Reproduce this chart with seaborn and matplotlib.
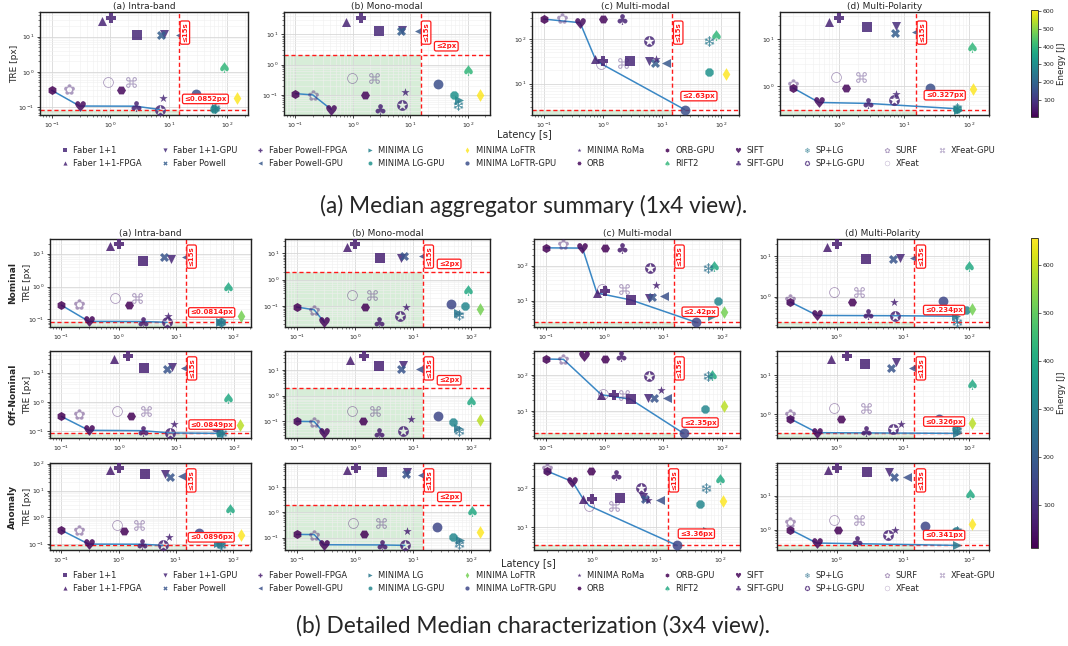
import matplotlib
matplotlib.use("Agg")
import matplotlib.pyplot as plt
import matplotlib.transforms as mtransforms
from matplotlib.colors import Normalize
from matplotlib.cm import ScalarMappable
from matplotlib.lines import Line2D
import numpy as np
import pandas as pd
import seaborn as sns

# ---------------------------------------------------------------- methods
methods = ["Faber 1+1", "Faber 1+1-FPGA", "Faber 1+1-GPU", "Faber Powell",
           "Faber Powell-FPGA", "Faber Powell-GPU", "MINIMA LG", "MINIMA LG-GPU",
           "MINIMA LoFTR", "MINIMA LoFTR-GPU", "MINIMA RoMa", "ORB", "ORB-GPU",
           "RIFT2", "SIFT", "SIFT-GPU", "SP+LG", "SP+LG-GPU", "SURF", "XFeat",
           "XFeat-GPU"]
markers = ["s", "^", "v", "X", "P", "<", ">", "8", "d", "o", "*", "H", "h",
           "$\u2660$", "$\u2665$", "$\u2663$", "$\u2744$", "$\u272A$",
           "$\u273F$", "$\u25CB$", "$\u2318$"]
pale_methods = ["SURF", "XFeat", "XFeat-GPU"]

# energy [J] per method: median summary, nominal, off-nominal, anomaly
energy_median = [70, 60, 80, 180, 60, 170, 270, 310, 606, 150, 70, 15, 3,
                 400, 20, 60, 250, 70, 60, 60, 70]
energy_nominal = [70, 60, 80, 180, 60, 170, 270, 310, 520, 150, 70, 15, 11,
                  400, 20, 60, 250, 70, 60, 60, 70]
energy_offnominal = [70, 60, 80, 180, 60, 170, 270, 310, 590, 150, 70, 15, 12,
                     400, 20, 60, 250, 70, 60, 60, 70]
energy_anomaly = [70, 60, 80, 180, 60, 170, 270, 310, 656, 150, 70, 15, 13,
                  400, 20, 60, 250, 70, 60, 60, 70]

panel_titles = ["(a) Intra-band", "(b) Mono-modal", "(c) Multi-modal",
                "(d) Multi-Polarity"]
row_names = ["Nominal", "Off-Nominal", "Anomaly"]
latency_limit = 15
mono_tre_limit = 2

# ---------------------------------------------------------------- median summary
median_intra_lat = [2.8, 0.71, 8.3, 7.3, 1.03, 15.5, 63, 60, 148, 28.7, 7.8, 1.51, 0.1,
                    88, 0.3, 2.7, 62, 7.0, 0.2, 0.91, 2.27]
median_intra_tre = [11.2, 27, 11.7, 11, 33, 11, 0.092, 0.09, 0.18, 0.24, 0.185, 0.31, 0.30,
                    1.39, 0.107, 0.106, 0.095, 0.0852, 0.32, 0.50, 0.52]
median_mono_lat = [2.89, 0.76, 7.2, 6.8, 1.37, 14, 70, 58, 160, 30, 8, 1.6, 0.1,
                   99, 0.42, 3.0, 68, 7.0, 0.2, 0.96, 2.3]
median_mono_tre = [12.8, 26, 13.5, 12.5, 33, 12.8, 0.066, 0.1, 0.1, 0.22, 0.126, 0.1, 0.11,
                   0.66, 0.033, 0.034, 0.048, 0.045, 0.1, 0.36, 0.36]
median_multi_lat = [2.9, 0.74, 5.9, 7.5, 1.0, 11.5, 65, 63, 120, 24, 7.9, 1.0, 0.1,
                    83, 0.41, 2.1, 63, 6.1, 0.2, 0.93, 2.2]
median_multi_tre = [32, 36, 33, 29, 33, 29, 5.2, 18.5, 16.5, 2.63, 36, 280, 280,
                    120, 232, 275, 88, 92, 290, 28, 28.5]
median_polar_lat = [2.7, 0.71, 7.6, 7.4, 1.0, 15, 66, 64, 115, 25, 7.6, 1.28, 0.2,
                    110, 0.5, 2.8, 65, 7.0, 0.2, 0.9, 2.2]
median_polar_tre = [18, 23, 19, 13, 27, 14, 0.327, 0.34, 0.89, 0.93, 0.7, 0.93, 0.93,
                    6.6, 0.46, 0.44, 0.36, 0.52, 1.15, 1.6, 1.6]

# ---------------------------------------------------------------- nominal
nominal_intra_lat = [2.7, 0.7, 8.3, 6.2, 1.0, 15, 59, 62, 135, 42, 7.2, 1.5, 0.1,
                     82, 0.3, 2.7, 60, 7.0, 0.2, 0.86, 2.1]
nominal_intra_tre = [5.9, 17, 6.7, 8, 19, 8.1, 0.083, 0.085, 0.13, 0.17, 0.13, 0.27, 0.27,
                     1.0, 0.087, 0.086, 0.084, 0.0814, 0.3, 0.44, 0.44]
nominal_mono_lat = [2.7, 0.73, 6.3, 7.0, 1.0, 15, 59, 78, 140, 45, 7.5, 1.5, 0.1,
                    90, 0.3, 2.6, 61, 5.9, 0.2, 0.9, 2.0]
nominal_mono_tre = [6.5, 18, 6.6, 8.3, 22, 8.3, 0.053, 0.1, 0.074, 0.12, 0.092, 0.092, 0.092,
                    0.4, 0.024, 0.0245, 0.044, 0.04, 0.072, 0.26, 0.26]
nominal_multi_lat = [2.8, 0.74, 5.6, 6.4, 1.0, 10.1, 68, 83, 105, 36, 7.6, 1.0, 0.1,
                     72, 0.42, 1.95, 58, 5.8, 0.2, 0.9, 2.1]
nominal_multi_tre = [10.5, 16.6, 11.8, 13, 19.5, 14, 3.7, 9.8, 4.9, 2.42, 28, 320, 320,
                     95, 315, 320, 85, 85, 400, 21, 21]
nominal_polar_lat = [2.8, 0.72, 9.2, 7.2, 1.0, 15, 64, 89, 112, 40, 7.4, 1.7, 0.2,
                     100, 0.51, 2.95, 66, 7.6, 0.2, 0.92, 2.2]
nominal_polar_tre = [8.2, 16.6, 9.0, 8.2, 19, 9, 0.33, 0.47, 0.5, 0.78, 0.74, 0.74, 0.74,
                     5.7, 0.345, 0.38, 0.234, 0.34, 0.87, 1.3, 1.3]

# ---------------------------------------------------------------- off-nominal
offnominal_intra_lat = [2.75, 0.83, 8.5, 6.8, 1.42, 14, 60, 58, 130, 50, 9, 1.6, 0.1,
                        79, 0.3, 2.6, 62, 7.7, 0.2, 0.91, 3.0]
offnominal_intra_tre = [15, 30, 16, 13.4, 36, 14, 0.0849, 0.09, 0.16, 0.14, 0.18, 0.32, 0.32,
                        1.4, 0.108, 0.105, 0.088, 0.088, 0.39, 0.49, 0.49]
offnominal_mono_lat = [2.6, 0.83, 6.8, 6.2, 1.45, 13, 60, 48, 140, 27, 9.2, 1.4, 0.1,
                       100, 0.3, 2.6, 61, 6.7, 0.2, 0.9, 2.2]
offnominal_mono_tre = [14, 25, 16, 11, 34, 11, 0.055, 0.092, 0.11, 0.16, 0.12, 0.1, 0.1,
                       0.64, 0.034, 0.035, 0.041, 0.043, 0.098, 0.25, 0.25]
offnominal_multi_lat = [2.76, 0.88, 5.4, 6.9, 1.45, 11.5, 67, 51, 105, 22, 9.1, 1.0, 0.1,
                        68, 0.45, 1.9, 58, 5.7, 0.2, 0.93, 2.1]
offnominal_multi_tre = [21, 28, 22, 22, 28, 22, 5.1, 11, 14, 2.35, 38, 275, 275,
                        102, 326, 326, 90, 90, 270, 28.5, 28]
offnominal_polar_lat = [2.7, 0.83, 7.8, 6.7, 1.45, 14.5, 66, 64, 112, 35, 9.5, 1.17, 0.2,
                        112, 0.51, 2.8, 65, 7.2, 0.2, 0.92, 2.8]
offnominal_polar_tre = [19, 26, 21, 15, 30, 15, 0.326, 0.43, 0.61, 0.77, 0.55, 0.77, 0.77,
                        6.1, 0.34, 0.38, 0.4, 0.43, 1.0, 1.44, 1.44]

# ---------------------------------------------------------------- anomaly
anomaly_intra_lat = [2.9, 0.71, 6.6, 8.1, 1.02, 13, 55, 60, 138, 26, 7.8, 1.25, 0.1,
                     89, 0.3, 2.6, 62, 6.0, 0.2, 0.93, 2.3]
anomaly_intra_tre = [42, 57, 43, 32, 67, 35, 0.11, 0.1, 0.21, 0.26, 0.19, 0.31, 0.33,
                     2.1, 0.1, 0.099, 0.095, 0.0896, 0.34, 0.52, 0.52]
anomaly_mono_lat = [2.9, 0.74, 7.8, 7.4, 1.05, 14, 63, 48, 138, 26, 7.8, 1.45, 0.1,
                    102, 0.29, 2.9, 62, 7.2, 0.2, 0.93, 2.8]
anomaly_mono_tre = [38, 45, 38, 31, 53, 29, 0.083, 0.11, 0.17, 0.26, 0.18, 0.135, 0.135,
                    1.15, 0.053, 0.052, 0.055, 0.05, 0.133, 0.37, 0.37]
anomaly_multi_lat = [2.7, 0.73, 6.2, 6.7, 1.0, 11.4, 62, 48, 107, 21, 7.5, 0.96, 0.2,
                     99, 0.5, 2.4, 60, 5.8, 0.2, 0.91, 2.2]
anomaly_multi_tre = [56, 53, 59, 53, 53, 50, 8.1, 40, 46, 3.36, 48, 274, 274,
                     170, 146, 220, 100, 100, 320, 35, 35]
anomaly_polar_lat = [2.85, 0.74, 6.2, 7.4, 1.0, 11.7, 66, 64, 112, 22, 7.6, 1.05, 0.2,
                     104, 0.5, 2.05, 66, 6.0, 0.2, 0.9, 2.2]
anomaly_polar_tre = [49, 55, 50, 35, 63, 35, 0.341, 0.9, 1.5, 1.27, 1.0, 1.0, 1.0,
                     11, 0.4, 0.45, 0.9, 0.68, 1.7, 1.9, 1.9]

median_panels = [(median_intra_lat, median_intra_tre), (median_mono_lat, median_mono_tre),
                 (median_multi_lat, median_multi_tre), (median_polar_lat, median_polar_tre)]
detail_panels = [
    [(nominal_intra_lat, nominal_intra_tre), (nominal_mono_lat, nominal_mono_tre),
     (nominal_multi_lat, nominal_multi_tre), (nominal_polar_lat, nominal_polar_tre)],
    [(offnominal_intra_lat, offnominal_intra_tre), (offnominal_mono_lat, offnominal_mono_tre),
     (offnominal_multi_lat, offnominal_multi_tre), (offnominal_polar_lat, offnominal_polar_tre)],
    [(anomaly_intra_lat, anomaly_intra_tre), (anomaly_mono_lat, anomaly_mono_tre),
     (anomaly_multi_lat, anomaly_multi_tre), (anomaly_polar_lat, anomaly_polar_tre)],
]
detail_energy = [energy_nominal, energy_offnominal, energy_anomaly]

# ---------------------------------------------------------------- style
sns.set_theme(style="whitegrid")
plt.rcParams["font.family"] = ["DejaVu Sans"]
plt.rcParams["axes.edgecolor"] = "#222222"
plt.rcParams["axes.linewidth"] = 1.0

W, H = 1068, 646
fig = plt.figure(figsize=(W / 100, H / 100), dpi=100)
fig.patch.set_facecolor("white")


def px_axes(x0, y0, x1, y1):
    return fig.add_axes([x0 / W, 1 - y1 / H, (x1 - x0) / W, (y1 - y0) / H])


RED = "#ff1a1a"
FRONT = "#3a87c4"
cmap = "viridis"


def pareto(df):
    d = df.sort_values(["lat", "tre"])
    best, keep = np.inf, []
    for idx, row in d.iterrows():
        if row["tre"] < best:
            keep.append(idx)
            best = row["tre"]
    return d.loc[keep]


def marker_area(mk):
    if mk.startswith("$"):
        return 60
    if mk in ("o", "s"):
        return 50
    if mk == "*":
        return 40
    return 42


def draw_panel(ax, lat, tre, energy, norm, col):
    df = pd.DataFrame({"method": methods, "lat": lat, "tre": tre, "energy": energy})
    ax.set_xscale("log")
    ax.set_yscale("log")
    front = pareto(df)
    sns.lineplot(data=front, x="lat", y="tre", ax=ax, color=FRONT, lw=1.1,
                 sort=False, estimator=None, zorder=2)
    for m, mk in zip(methods, markers):
        sub = df[df["method"] == m]
        sns.scatterplot(data=sub, x="lat", y="tre", hue="energy", palette=cmap,
                        hue_norm=norm, marker=mk, s=marker_area(mk), linewidth=0,
                        alpha=0.45 if m in pale_methods else 0.85,
                        legend=False, ax=ax, zorder=3)
    # axis ranges from the data (log margins)
    lx = np.log10(df["lat"].to_numpy())
    ly = np.log10(df["tre"].to_numpy())
    xlo = 10 ** (lx.min() - 0.2)
    xhi = max(200, 10 ** (lx.max() + 0.18))
    rng = ly.max() - ly.min()
    ylo = 10 ** (ly.min() - 0.06 * rng)
    yhi = 10 ** (ly.max() + 0.07 * rng)
    ax.set_xlim(xlo, xhi)
    ax.set_ylim(ylo, yhi)

    if col == 1:
        thr = mono_tre_limit
        thr_text = "\u2264%gpx" % thr
    else:
        thr = df["tre"].min()
        thr_text = "\u2264%spx" % ("%.3g" % thr)
    ax.fill_between([xlo, latency_limit], [ylo, ylo], [thr, thr], color="#4caf50",
                    alpha=0.22, lw=0, zorder=0.5)
    ax.axvline(latency_limit, color=RED, ls=(0, (3, 2)), lw=1.0, zorder=1.5)
    ax.axhline(thr, color=RED, ls=(0, (3, 2)), lw=1.0, zorder=1.5)
    box = dict(boxstyle="round,pad=0.25", fc="white", ec=RED, lw=0.9)
    tr = mtransforms.blended_transform_factory(ax.transData, ax.transAxes)
    ax.text(latency_limit * 1.25, 0.8, "\u226415s", rotation=90, color=RED,
            fontsize=5, fontweight="bold", ha="center", va="center",
            transform=tr, bbox=box, zorder=5)
    ax.text(42, thr * 2.0, thr_text, color=RED, fontsize=5, fontweight="bold",
            ha="center", va="center", bbox=box, zorder=5)

    ax.set_xlabel("")
    ax.set_ylabel("")
    ax.set_axisbelow(True)
    ax.grid(True, which="major", color="#d8d8d8", lw=0.6)
    ax.grid(True, which="minor", color="#efefef", lw=0.4)
    ax.tick_params(which="major", labelsize=4.5, length=2.5, width=0.6, pad=1.5,
                   left=True, bottom=True, color="#222222")
    ax.tick_params(which="minor", length=1.3, width=0.4, left=True, bottom=True,
                   color="#222222")
    for sp in ax.spines.values():
        sp.set_color("#222222")
        sp.set_linewidth(1.0)


def legend_handles(energy, norm):
    cm = plt.get_cmap(cmap)
    hs = []
    for m, mk, e in zip(methods, markers, energy):
        hs.append(Line2D([], [], ls="", marker=mk, color=cm(norm(e)),
                         markersize=3.8 if mk.startswith("$") else 3,
                         markeredgewidth=0,
                         alpha=0.45 if m in pale_methods else 0.85))
    return hs


def add_colorbar(norm, y0, y1):
    cax = px_axes(1031, y0, 1038, y1)
    cb = fig.colorbar(ScalarMappable(norm=norm, cmap=cmap), cax=cax)
    cb.outline.set_linewidth(0.6)
    cb.ax.tick_params(labelsize=4.5, length=2, width=0.5, pad=1.5)
    cb.set_label("Energy [J]", fontsize=6.2, labelpad=2)


def add_legend(energy, norm, y):
    fig.legend(legend_handles(energy, norm), methods, ncol=11, loc="center",
               bbox_to_anchor=(528 / W, 1 - y / H), frameon=False, fontsize=6,
               handlelength=1.0, handletextpad=0.5, columnspacing=2.25,
               labelspacing=0.45)


# ---------------------------------------------------------------- (a) median summary
top_cols = [(40, 248), (284, 490), (532, 739), (780, 989)]
norm_top = Normalize(vmin=min(energy_median), vmax=max(energy_median))
for c, ((lat, tre), (x0, x1)) in enumerate(zip(median_panels, top_cols)):
    ax = px_axes(x0, 12, x1, 115)
    draw_panel(ax, lat, tre, energy_median, norm_top, c)
    ax.set_title(panel_titles[c], fontsize=6.5, pad=2)
    if c == 0:
        ax.set_ylabel("TRE [px]", fontsize=6.5)
        ax.yaxis.set_label_coords(-0.1, 0.5)
add_colorbar(norm_top, 10, 117)
fig.text(524 / W, 1 - 135 / H, "Latency [s]", fontsize=7, ha="center", va="center")
add_legend(energy_median, norm_top, 157)
fig.text(534 / W, 1 - 206 / H, "(a) Median aggregator summary (1x4 view).",
         fontsize=16.3, ha="center", va="center", family=["Lato", "DejaVu Sans"])

# ---------------------------------------------------------------- (b) detailed rows
bot_cols = [(50, 251), (285, 490), (534, 740), (777, 989)]
bot_rows = [(239, 327), (351, 438), (463, 550)]
norm_bot = Normalize(vmin=min(min(e) for e in detail_energy),
                     vmax=max(max(e) for e in detail_energy))
for r, (y0, y1) in enumerate(bot_rows):
    for c, (x0, x1) in enumerate(bot_cols):
        ax = px_axes(x0, y0, x1, y1)
        lat, tre = detail_panels[r][c]
        draw_panel(ax, lat, tre, detail_energy[r], norm_bot, c)
        if r == 0:
            ax.set_title(panel_titles[c], fontsize=6.5, pad=2)
        if c == 0:
            ax.set_ylabel("TRE [px]", fontsize=6.5)
            ax.yaxis.set_label_coords(-0.09, 0.5)
            ax.text(-0.185, 0.5, row_names[r], rotation=90, fontsize=6.5,
                    fontweight="bold", ha="center", va="center",
                    transform=ax.transAxes)
add_colorbar(norm_bot, 238, 548)
fig.text(528 / W, 1 - 564 / H, "Latency [s]", fontsize=7, ha="center", va="center")
add_legend(energy_nominal, norm_bot, 582)
fig.text(533 / W, 1 - 626 / H, "(b) Detailed Median characterization (3x4 view).",
         fontsize=16.3, ha="center", va="center", family=["Lato", "DejaVu Sans"])

fig.savefig("out.png", dpi=100, facecolor="white")
